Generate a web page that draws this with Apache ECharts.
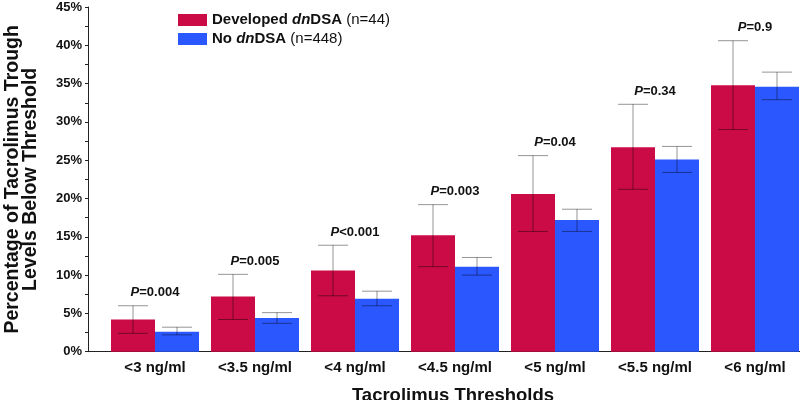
<!DOCTYPE html>
<html>
<head>
<meta charset="utf-8">
<script src="https://cdn.jsdelivr.net/npm/echarts@6/dist/echarts.min.js"></script>
<style>html,body{margin:0;padding:0;background:#fff}#c{width:800px;height:400px}</style>
</head>
<body>
<div id="c"></div>
<script>
// ---- data ----
var categories = ['<3 ng/ml', '<3.5 ng/ml', '<4 ng/ml', '<4.5 ng/ml', '<5 ng/ml', '<5.5 ng/ml', '<6 ng/ml'];
var devMean = [4.2, 7.2, 10.6, 15.2, 20.6, 26.7, 34.8];
var devLow  = [2.4, 4.2, 7.3, 11.1, 15.7, 21.2, 29.0];
var devHigh = [6.0, 10.1, 13.9, 19.2, 25.6, 32.3, 40.6];
var noMean  = [2.6, 4.4, 6.9, 11.1, 17.2, 25.1, 34.6];
var noLow   = [2.2, 3.7, 6.0, 10.0, 15.7, 23.4, 32.9];
var noHigh  = [3.2, 5.1, 7.9, 12.3, 18.6, 26.8, 36.5];
var pLabels = [['P', '=0.004'], ['P', '=0.005'], ['P', '<0.001'], ['P', '=0.003'], ['P', '=0.04'], ['P', '=0.34'], ['P', '=0.9']];
var yTicks = [0, 5, 10, 15, 20, 25, 30, 35, 40, 45];

var FONT = '"Liberation Sans", Arial, Helvetica, sans-serif';
var RED = '#CB0B45';
var BLUE = '#2B57FE';
var idx = categories.map(function (c, i) { return i; });

function pairs(vals) { return vals.map(function (v, i) { return [i, v]; }); }
function errData(lo, hi) { return lo.map(function (v, i) { return [i, v, hi[i]]; }); }

function errRender(offset) {
  return function (params, api) {
    var i = api.value(0);
    var top = api.coord([i, api.value(2)]);
    var bot = api.coord([i, api.value(1)]);
    var x = top[0] + offset;
    var hw = 15;
    var st = { stroke: 'rgba(0,0,0,0.42)', lineWidth: 1 };
    return {
      type: 'group',
      children: [
        { type: 'line', shape: { x1: x, y1: top[1], x2: x, y2: bot[1] }, style: st },
        { type: 'line', shape: { x1: x - hw, y1: top[1], x2: x + hw, y2: top[1] }, style: st },
        { type: 'line', shape: { x1: x - hw, y1: bot[1], x2: x + hw, y2: bot[1] }, style: st }
      ]
    };
  };
}

var chart = echarts.init(document.getElementById('c'), null, { renderer: 'canvas' });
chart.setOption({
  animation: false,
  backgroundColor: '#fff',
  textStyle: { fontFamily: FONT },
  legend: {
    left: 173, top: 7, orient: 'vertical',
    itemWidth: 29, itemHeight: 12, itemGap: 3,
    icon: 'rect',
    data: ['Developed dnDSA', 'No dnDSA'],
    formatter: function (name) {
      if (name === 'Developed dnDSA') return '{b|Developed }{bi|dn}{b|DSA }{r|(n=44)}';
      return '{b|No }{bi|dn}{b|DSA }{r|(n=448)}';
    },
    textStyle: {
      fontFamily: FONT, fontSize: 15, color: '#111', lineHeight: 16,
      rich: {
        b: { fontFamily: FONT, fontSize: 15, fontWeight: 'bold', color: '#111' },
        bi: { fontFamily: FONT, fontSize: 15, fontWeight: 'bold', fontStyle: 'italic', color: '#111' },
        r: { fontFamily: FONT, fontSize: 15, color: '#111' }
      }
    }
  },
  grid: { left: 88, right: 0, top: 7, bottom: 48.3, containLabel: false, outerBoundsMode: 'none' },
  xAxis: {
    type: 'value', min: -0.67, max: 6.45,
    splitLine: { show: false },
    axisTick: { show: false },
    axisLine: { show: true, onZero: false, lineStyle: { color: '#222', width: 1 } },
    axisLabel: {
      customValues: idx,
      formatter: function (v) { return categories[Math.round(v)] || ''; },
      fontFamily: FONT, fontSize: 15, fontWeight: 'bold', color: '#111', margin: 9
    },
    name: 'Tacrolimus Thresholds', nameLocation: 'middle', nameGap: 35,
    nameTextStyle: { fontFamily: FONT, fontSize: 18.5, fontWeight: 'bold', color: '#111', padding: [0, 0, 0, 18] }
  },
  yAxis: {
    type: 'value', min: 0, max: 45, interval: 5,
    splitLine: { show: false },
    axisLine: { show: true, onZero: false, lineStyle: { color: '#222', width: 1 } },
    axisTick: { show: true, length: 3, lineStyle: { color: '#222' } },
    minorTick: { show: true, splitNumber: 2, length: 3, lineStyle: { color: '#222' } },
    axisLabel: {
      formatter: function (v) { return yTicks.indexOf(v) >= 0 ? v + '%' : ''; },
      fontFamily: FONT, fontSize: 13, fontWeight: 'bold', color: '#111', margin: 6
    },
    name: 'Percentage of Tacrolimus Trough\nLevels Below Threshold',
    nameLocation: 'middle', nameGap: 48,
    nameTextStyle: { fontFamily: FONT, fontSize: 19.5, fontWeight: 'bold', color: '#111', lineHeight: 18.5 }
  },
  series: [
    { name: 'Developed dnDSA', type: 'bar', data: pairs(devMean), barWidth: 44, barGap: '0%',
      itemStyle: { color: RED }, z: 2 },
    { name: 'No dnDSA', type: 'bar', data: pairs(noMean), barWidth: 44, barGap: '0%',
      itemStyle: { color: BLUE }, z: 2 },
    { type: 'custom', data: errData(devLow, devHigh), encode: { x: 0, y: [1, 2] },
      renderItem: errRender(-22), z: 5, silent: true },
    { type: 'custom', data: errData(noLow, noHigh), encode: { x: 0, y: [1, 2] },
      renderItem: errRender(22), z: 5, silent: true },
    { type: 'custom', data: pairs(devHigh), encode: { x: 0, y: 1 }, z: 6, silent: true,
      renderItem: function (params, api) {
        var i = api.value(0);
        var p = api.coord([i, api.value(1)]);
        var lab = pLabels[i];
        return {
          type: 'text',
          x: p[0], y: p[1] - 13,
          style: {
            text: '{i|' + lab[0] + '}{n|' + lab[1] + '}',
            align: 'center', verticalAlign: 'middle',
            rich: {
              i: { fontFamily: FONT, fontSize: 13, fontWeight: 'bold', fontStyle: 'italic', fill: '#111' },
              n: { fontFamily: FONT, fontSize: 13, fontWeight: 'bold', fill: '#111' }
            }
          }
        };
      }
    }
  ]
});
</script>
</body>
</html>
